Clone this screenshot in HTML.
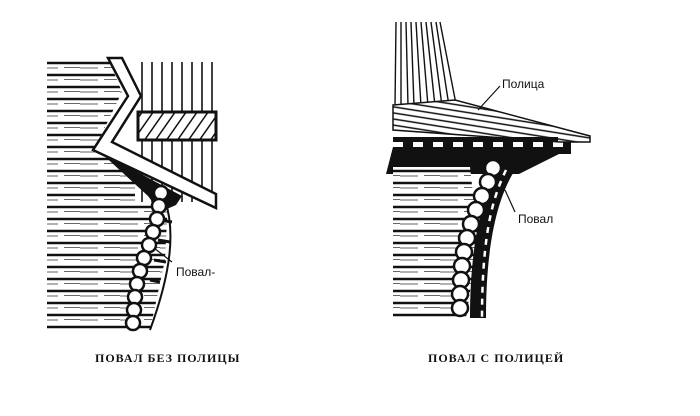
<!DOCTYPE html>
<html><head><meta charset="utf-8"><style>
html,body{margin:0;padding:0;background:#fff;width:700px;height:416px;overflow:hidden}
</style></head><body>
<svg width="700" height="416" viewBox="0 0 700 416" xmlns="http://www.w3.org/2000/svg">
<defs>
<pattern id="logs" width="40" height="12" patternUnits="userSpaceOnUse">
<rect width="40" height="12" fill="#fff"/>
<path d="M0 3 H40" stroke="#111" stroke-width="2.6"/>
<path d="M0 8 H18 M24 7.5 H40" stroke="#333" stroke-width="0.8"/>
</pattern>
<pattern id="vsl" width="10" height="10" patternUnits="userSpaceOnUse">
<rect width="10" height="10" fill="#fff"/>
<path d="M2 0 V10" stroke="#111" stroke-width="1.6"/>
</pattern>
<pattern id="hatch" width="9" height="9" patternUnits="userSpaceOnUse" patternTransform="rotate(35)">
<rect width="9" height="9" fill="#fff"/>
<path d="M0 0 V9" stroke="#111" stroke-width="3"/>
</pattern>
<pattern id="roof" width="40" height="6" patternUnits="userSpaceOnUse" patternTransform="rotate(9)">
<rect width="40" height="6" fill="#fff"/>
<path d="M0 2 H40" stroke="#111" stroke-width="1.6"/>
</pattern>
</defs>

<!-- LEFT DRAWING -->
<polygon points="47,58 108,58 122,92 95,148 150,182 168,200 165,260 150,330 47,330" fill="url(#logs)"/>
<rect x="135" y="62" width="83" height="140" fill="url(#vsl)"/>
<rect x="138" y="112" width="78" height="28" fill="url(#hatch)" stroke="#111" stroke-width="3"/>
<polygon points="100,152 182,196 176,205 160,212 148,196" fill="#111"/>
<polygon points="108,58 122,58 141,96 112,142 216,194 216,208 93,150 128,96" fill="#fff" stroke="#111" stroke-width="2.5"/>
<path d="M165 200 C175 230 172 270 150 330" stroke="#111" stroke-width="2" fill="none"/>
<path d="M160 200 L172 205 M160 220 L172 222 M158 240 L170 242 M154 260 L166 262 M150 280 L160 282" stroke="#111" stroke-width="3"/>
<g fill="#fff" stroke="#111" stroke-width="2.5">
<circle cx="161" cy="193" r="7"/><circle cx="159" cy="206" r="7"/><circle cx="157" cy="219" r="7"/>
<circle cx="153" cy="232" r="7"/><circle cx="149" cy="245" r="7"/><circle cx="144" cy="258" r="7"/>
<circle cx="140" cy="271" r="7"/><circle cx="137" cy="284" r="7"/><circle cx="135" cy="297" r="7"/>
<circle cx="134" cy="310" r="7"/><circle cx="133" cy="323" r="7"/>
</g>
<line x1="172" y1="262" x2="154" y2="248" stroke="#111" stroke-width="1.2"/>
<text x="176" y="276" font-family="Liberation Sans, sans-serif" font-size="12" fill="#111">Повал-</text>

<!-- RIGHT DRAWING -->
<g stroke="#111" stroke-width="1.4">
<line x1="396" y1="22" x2="395" y2="106"/><line x1="401" y1="22" x2="401" y2="106"/>
<line x1="406" y1="22" x2="408" y2="106"/><line x1="411" y1="22" x2="414" y2="106"/>
<line x1="416" y1="22" x2="421" y2="106"/><line x1="421" y1="22" x2="428" y2="106"/>
<line x1="426" y1="22" x2="435" y2="106"/><line x1="431" y1="22" x2="442" y2="106"/>
<line x1="436" y1="22" x2="449" y2="106"/><line x1="440" y1="22" x2="456" y2="104"/>
</g>
<polygon points="393,105 455,100 590,136 590,142 560,142 393,130" fill="url(#roof)" stroke="#111" stroke-width="1.5"/>
<rect x="393" y="137" width="165" height="5" fill="#111"/>
<path d="M393 147 h10 v-5 h10 v5 h10 v-5 h10 v5 h10 v-5 h10 v5 h10 v-5 h10 v5 h10 v-5 h10 v5 h10 v-5 h10 v5 h10 v-5 h10 v5 h10 v-5 h10 v5 h10 v-5 h8 v12 h-12 l-40 20 h-133 z" fill="#111"/>
<polygon points="393,167 470,167 478,240 466,318 393,318" fill="url(#logs)"/>
<path d="M500 160 L522 160 C502 185 486 230 486 318 L470 318 C470 250 480 200 500 160 z" fill="#111"/>
<path d="M506 170 C494 195 482 230 482 318" stroke="#fff" stroke-width="2.5" stroke-dasharray="6 6" fill="none"/>
<g fill="#fff" stroke="#111" stroke-width="2.5">
<circle cx="493" cy="168" r="8"/><circle cx="488" cy="182" r="8"/><circle cx="482" cy="196" r="8"/>
<circle cx="476" cy="210" r="8"/><circle cx="471" cy="224" r="8"/><circle cx="467" cy="238" r="8"/>
<circle cx="464" cy="252" r="8"/><circle cx="462" cy="266" r="8"/><circle cx="461" cy="280" r="8"/>
<circle cx="460" cy="294" r="8"/><circle cx="460" cy="308" r="8"/>
</g>
<line x1="500" y1="86" x2="478" y2="110" stroke="#111" stroke-width="1.2"/>
<text x="502" y="88" font-family="Liberation Sans, sans-serif" font-size="12" fill="#111">Полица</text>
<line x1="515" y1="212" x2="505" y2="190" stroke="#111" stroke-width="1.2"/>
<text x="518" y="223" font-family="Liberation Sans, sans-serif" font-size="12" fill="#111">Повал</text>

<!-- CAPTIONS -->
<text x="95" y="362" font-family="Liberation Serif, serif" font-weight="bold" font-size="12" letter-spacing="1" fill="#111">ПОВАЛ БЕЗ ПОЛИЦЫ</text>
<text x="428" y="362" font-family="Liberation Serif, serif" font-weight="bold" font-size="12" letter-spacing="1" fill="#111">ПОВАЛ С ПОЛИЦЕЙ</text>
</svg>
</body></html>
